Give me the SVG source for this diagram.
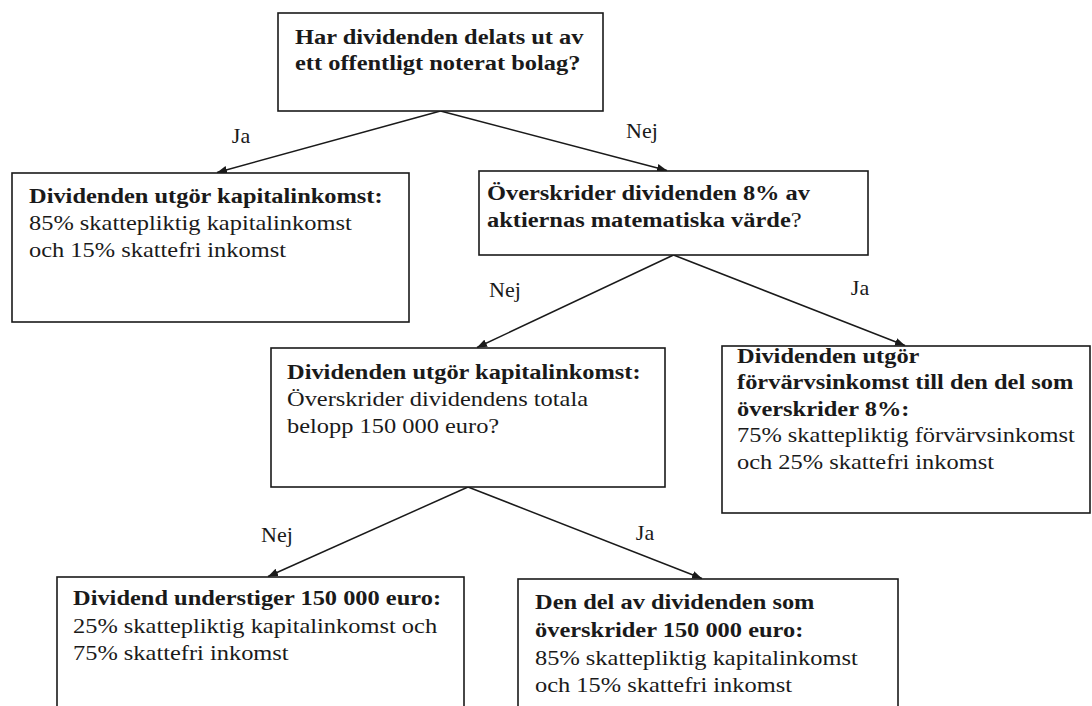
<svg xmlns="http://www.w3.org/2000/svg" width="1092" height="706" viewBox="0 0 1092 706" font-family="'Liberation Serif', 'Times New Roman', Tinos, 'DejaVu Serif', serif">
<defs>
<style>
.box{fill:#fff;stroke:#1a1a1a;stroke-width:1.6}
.con{stroke:#1a1a1a;stroke-width:1.5;fill:none;marker-end:url(#ah)}
text{font-family:'Liberation Serif','Times New Roman',Tinos,'DejaVu Serif',serif;font-size:22px;fill:#1a1a1a}
.b{font-weight:bold}
.r{font-weight:normal}
.lbl{text-anchor:middle}
</style>
<marker id="ah" viewBox="0 0 10 8" refX="10" refY="4" markerWidth="10" markerHeight="8" markerUnits="userSpaceOnUse" orient="auto">
<path d="M0,0 L10,4 L0,8 z" fill="#1a1a1a"/>
</marker>
</defs>
<rect width="1092" height="706" fill="#fff"/>
<g id="connectors">
<line class="con" x1="440.5" y1="111" x2="217" y2="172.5"/>
<line class="con" x1="440.5" y1="111" x2="667" y2="170.5"/>
<line class="con" x1="673.5" y1="255" x2="477" y2="347.5"/>
<line class="con" x1="673.5" y1="255" x2="905" y2="345.5"/>
<line class="con" x1="468" y1="487" x2="268" y2="576.5"/>
<line class="con" x1="468" y1="487" x2="702" y2="578.5"/>
<text class="lbl" x="241" y="143">Ja</text>
<text class="lbl" x="642" y="138">Nej</text>
<text class="lbl" x="505" y="297">Nej</text>
<text class="lbl" x="860" y="295">Ja</text>
<text class="lbl" x="277" y="542">Nej</text>
<text class="lbl" x="645" y="540">Ja</text>
</g>
<g id="n1">
<rect class="box" x="278" y="13" width="325" height="98"/>
<text class="b" transform="translate(295,0) scale(1.11,1)"><tspan x="0" y="44">Har dividenden delats ut av</tspan><tspan x="0" y="70.5">ett offentligt noterat bolag?</tspan></text>
</g>
<g id="n2">
<rect class="box" x="12" y="173" width="397" height="149"/>
<text transform="translate(29,0) scale(1.11,1)"><tspan class="b" x="0" y="203">Dividenden utgör kapitalinkomst:</tspan><tspan class="r" x="0" y="230">85% skattepliktig kapitalinkomst</tspan><tspan class="r" x="0" y="257">och 15% skattefri inkomst</tspan></text>
</g>
<g id="n3">
<rect class="box" x="479" y="171" width="389" height="84"/>
<text class="b" transform="translate(487,0) scale(1.11,1)"><tspan x="0" y="200">Överskrider dividenden 8% av</tspan><tspan x="0" y="227">aktiernas matematiska värde</tspan><tspan class="r">?</tspan></text>
</g>
<g id="n4">
<rect class="box" x="271" y="348" width="394" height="139"/>
<text transform="translate(287,0) scale(1.11,1)"><tspan class="b" x="0" y="379">Dividenden utgör kapitalinkomst:</tspan><tspan class="r" x="0" y="406">Överskrider dividendens totala</tspan><tspan class="r" x="0" y="433">belopp 150 000 euro?</tspan></text>
</g>
<g id="n5">
<rect class="box" x="722" y="346" width="368" height="167"/>
<text transform="translate(737,0) scale(1.11,1)"><tspan class="b" x="0" y="363">Dividenden utgör</tspan><tspan class="b" x="0" y="389.5">förvärvsinkomst till den del som</tspan><tspan class="b" x="0" y="416">överskrider 8%:</tspan><tspan class="r" x="0" y="442.5">75% skattepliktig förvärvsinkomst</tspan><tspan class="r" x="0" y="469">och 25% skattefri inkomst</tspan></text>
</g>
<g id="n6">
<rect class="box" x="57" y="577" width="407" height="150"/>
<text transform="translate(73,0) scale(1.11,1)"><tspan class="b" x="0" y="605">Dividend understiger 150 000 euro:</tspan><tspan class="r" x="0" y="633">25% skattepliktig kapitalinkomst och</tspan><tspan class="r" x="0" y="660">75% skattefri inkomst</tspan></text>
</g>
<g id="n7">
<rect class="box" x="518" y="579" width="380" height="150"/>
<text transform="translate(535,0) scale(1.11,1)"><tspan class="b" x="0" y="609">Den del av dividenden som</tspan><tspan class="b" x="0" y="637">överskrider 150 000 euro:</tspan><tspan class="r" x="0" y="665">85% skattepliktig kapitalinkomst</tspan><tspan class="r" x="0" y="692">och 15% skattefri inkomst</tspan></text>
</g>
</svg>
